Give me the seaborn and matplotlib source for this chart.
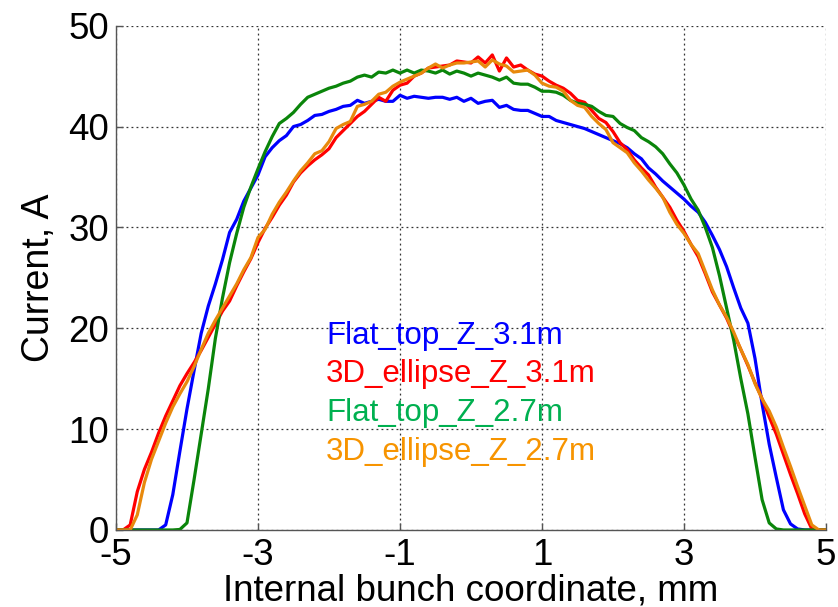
import matplotlib
matplotlib.use("Agg")
import matplotlib.pyplot as plt
from matplotlib.lines import Line2D
import seaborn as sns
import pandas as pd

x_mm = [-5.0, -4.9, -4.8, -4.7, -4.6, -4.5, -4.4, -4.3, -4.2, -4.1,
        -4.0, -3.9, -3.8, -3.7, -3.6, -3.5, -3.4, -3.3, -3.2, -3.1,
        -3.0, -2.9, -2.8, -2.7, -2.6, -2.5, -2.4, -2.3, -2.2, -2.1,
        -2.0, -1.9, -1.8, -1.7, -1.6, -1.5, -1.4, -1.3, -1.2, -1.1,
        -1.0, -0.9, -0.8, -0.7, -0.6, -0.5, -0.4, -0.3, -0.2, -0.1,
        0.0, 0.1, 0.2, 0.3, 0.4, 0.5, 0.6, 0.7, 0.8, 0.9,
        1.0, 1.1, 1.2, 1.3, 1.4, 1.5, 1.6, 1.7, 1.8, 1.9,
        2.0, 2.1, 2.2, 2.3, 2.4, 2.5, 2.6, 2.7, 2.8, 2.9,
        3.0, 3.1, 3.2, 3.3, 3.4, 3.5, 3.6, 3.7, 3.8, 3.9,
        4.0, 4.1, 4.2, 4.3, 4.4, 4.5, 4.6, 4.7, 4.8, 4.9, 5.0]

flat_top_3_1 = [0, 0, 0, 0, 0, 0, 0, 0.5, 3.5, 7.8,
                12.0, 15.8, 19.5, 22.2, 24.4, 26.8, 29.5, 30.8, 32.6, 33.9,
                35.2, 37.0, 37.9, 38.6, 39.1, 40.0, 40.2, 40.6, 41.1, 41.2,
                41.5, 41.7, 42.0, 42.1, 42.6, 42.3, 42.5, 42.7, 42.5, 42.5,
                43.1, 42.8, 43.0, 42.9, 42.8, 42.9, 42.9, 42.7, 42.9, 42.5,
                42.8, 42.3, 42.5, 42.6, 41.9, 42.1, 41.7, 41.6, 41.6, 41.3,
                41.0, 41.0, 40.6, 40.4, 40.2, 40.0, 39.8, 39.5, 39.2, 38.9,
                38.6, 38.3, 37.9, 37.3, 36.8, 35.9, 35.3, 34.6, 34.0, 33.4,
                32.8, 32.1, 31.5, 30.5, 29.2, 27.8, 26.1, 24.0, 22.0, 20.5,
                17.0, 12.5, 8.5, 5.2, 2.0, 0.6, 0.1, 0, 0, 0, 0]

ellipse_3_1 = [0, 0, 0.5, 3.8, 6.0, 7.7, 9.6, 11.3, 12.8, 14.3,
               15.5, 16.6, 17.8, 19.1, 20.4, 21.7, 22.7, 24.2, 25.6, 26.9,
               28.5, 29.9, 31.0, 32.2, 33.2, 34.5, 35.4, 36.1, 36.7, 37.2,
               37.8, 38.9, 39.6, 40.3, 41.0, 41.5, 42.2, 42.9, 42.5, 43.6,
               44.1, 44.3, 45.0, 45.3, 45.8, 45.9, 46.0, 46.1, 46.5, 46.4,
               46.3, 46.9, 46.3, 47.1, 45.5, 46.8, 45.9, 46.1, 45.6, 45.2,
               45.0, 44.5, 44.1, 43.8, 43.3, 42.6, 42.4, 41.6, 40.8, 40.4,
               39.5, 38.4, 37.7, 36.7, 35.9, 35.2, 34.0, 33.0, 32.0, 30.7,
               29.6, 28.3, 27.1, 25.4, 23.6, 22.3, 21.0, 19.4, 17.9, 16.3,
               14.6, 13.0, 11.2, 9.5, 7.5, 5.5, 3.6, 1.6, 0.1, 0, 0]

flat_top_2_7 = [0, 0, 0, 0, 0, 0, 0, 0, 0, 0.05,
                0.7, 5.0, 9.5, 14.0, 19.0, 23.0, 26.5, 29.4, 32.0, 34.0,
                35.8, 37.5, 39.0, 40.3, 40.8, 41.4, 42.2, 42.9, 43.2, 43.5,
                43.8, 44.0, 44.3, 44.5, 44.9, 45.1, 44.9, 45.4, 45.3, 45.6,
                45.3, 45.6, 45.3, 45.6, 45.5, 45.3, 45.6, 45.2, 45.5, 45.3,
                45.0, 45.3, 45.1, 44.9, 44.6, 44.9, 44.3, 44.2, 44.2, 43.9,
                43.5, 43.5, 43.4, 43.1, 42.6, 42.3, 42.2, 42.0, 41.5, 41.1,
                41.0, 40.3, 39.9, 39.6, 38.9, 38.5, 38.0, 37.3, 36.3, 35.4,
                34.2, 32.8, 31.7, 30.0, 28.0, 25.2, 22.0, 18.8, 15.0, 11.5,
                7.2, 3.0, 0.7, 0.1, 0, 0, 0, 0, 0, 0, 0]

ellipse_2_7 = [0, 0, 0, 1.5, 4.7, 7.0, 8.8, 10.6, 12.2, 13.5,
               14.7, 16.2, 17.9, 19.5, 20.8, 22.0, 23.2, 24.4, 25.8, 27.0,
               29.0, 29.8, 31.3, 32.5, 33.5, 34.6, 35.6, 36.4, 37.3, 37.6,
               38.5, 39.8, 40.2, 40.5, 42.0, 42.2, 42.5, 43.2, 43.4, 44.0,
               44.4, 44.7, 45.0, 45.3, 45.8, 46.2, 45.8, 46.1, 46.3, 46.3,
               46.4, 46.5, 45.9, 46.6, 46.2, 46.0, 45.4, 45.5, 45.6, 45.1,
               44.3, 44.0, 43.9, 43.5, 42.6, 42.1, 41.9, 41.0, 40.3, 39.7,
               38.4, 37.9, 37.4, 36.4, 35.6, 34.7, 33.9, 33.0, 31.5, 30.3,
               29.4, 28.3, 27.4, 25.6, 23.8, 22.3, 21.1, 19.6, 17.9, 16.4,
               14.5, 13.0, 11.8, 10.2, 8.2, 6.3, 4.3, 2.4, 0.5, 0, 0]

series_names = ["Flat_top_Z_3.1m", "3D_ellipse_Z_3.1m",
                "Flat_top_Z_2.7m", "3D_ellipse_Z_2.7m"]
series_values = [flat_top_3_1, ellipse_3_1, flat_top_2_7, ellipse_2_7]
line_colors = ["#0000FF", "#FF0000", "#0A850A", "#E8890C"]
text_colors = ["#0000FF", "#FF0000", "#00B050", "#F79400"]

xticks = [-5, -3, -1, 1, 3, 5]
yticks = [0, 10, 20, 30, 40, 50]

rows = []
for name, vals in zip(series_names, series_values):
    for xv, yv in zip(x_mm, vals):
        rows.append({"x": xv, "y": yv, "series": name})
df = pd.DataFrame(rows)

sns.set_style("white")
plt.rcParams["font.family"] = ["Liberation Sans", "DejaVu Sans"]

fig = plt.figure(figsize=(8.38, 6.07), dpi=100)
ax = fig.add_axes([0.1384, 0.1269, 0.8473, 0.8308])

sns.lineplot(data=df, x="x", y="y", hue="series", hue_order=series_names,
             palette=dict(zip(series_names, line_colors)), linewidth=2.3,
             legend=False, ax=ax, estimator=None, sort=False)

ax.set_xlim(-5, 5)
ax.set_ylim(0, 50)
ax.set_xticks(xticks)
ax.set_yticks(yticks)
ax.set_xticklabels([str(t) for t in xticks])
ax.set_yticklabels([str(t) for t in yticks])
ax.grid(True, linestyle=(0, (1.5, 2.5)), color="#333333", linewidth=0.9)
ax.set_axisbelow(True)

for side in ["top", "right"]:
    ax.spines[side].set_visible(False)
for side in ["left", "bottom"]:
    ax.spines[side].set_color("#555555")
    ax.spines[side].set_linewidth(1.0)

ax.tick_params(axis="both", direction="in", length=5, width=1,
               color="#555555", labelsize=26.5, labelcolor="black")
ax.tick_params(axis="x", pad=6, bottom=True)
ax.tick_params(axis="y", pad=5, left=True)

ax.set_xlabel("Internal bunch coordinate, mm", fontsize=26.5, labelpad=0,
              color="black")
ax.set_ylabel("Current, A", fontsize=27, labelpad=8, color="black")

handles = [Line2D([], [], linestyle="none") for _ in series_names]
leg = ax.legend(handles, series_names, loc="center left",
                bbox_to_anchor=(0.274, 0.27), frameon=False,
                handlelength=0, handletextpad=0, labelspacing=0.28,
                fontsize=22.5, borderpad=0)
for txt, c in zip(leg.get_texts(), text_colors):
    txt.set_color(c)

fig.savefig("out.png", dpi=100)
